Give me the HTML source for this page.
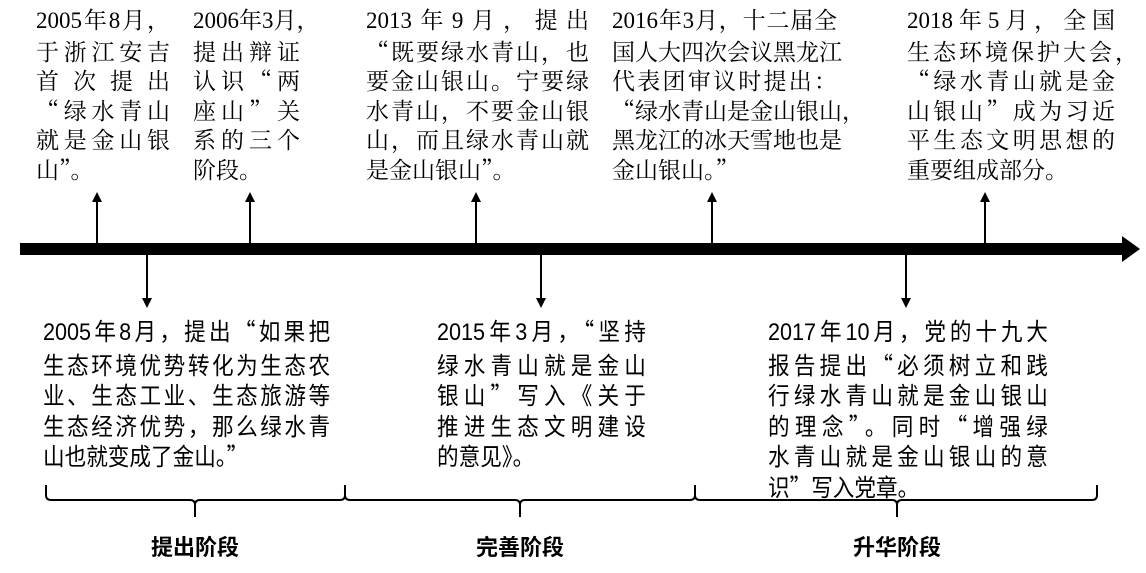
<!DOCTYPE html>
<html><head><meta charset="utf-8"><style>
body{margin:0;width:1146px;height:573px;background:#fff;position:relative;overflow:hidden;font-family:"Noto Serif CJK SC","Liberation Serif",serif;color:#000}
.n{font-family:"Liberation Serif",serif}
.b{position:absolute;font-size:23px;line-height:29.5px}
.b div{text-align:justify;text-align-last:justify;white-space:nowrap}
.b div.l{text-align-last:left}
.c{position:absolute;font-size:24px;line-height:30.5px;font-family:"Noto Sans CJK SC","Liberation Sans",sans-serif;transform:scaleX(0.9);transform-origin:0 0}
.c .n{font-family:"Liberation Sans Narrow","Liberation Sans",sans-serif}
.c div{text-align:justify;text-align-last:justify;white-space:nowrap}
.c div.l{text-align-last:left}
.lab{position:absolute;font-size:22px;font-weight:bold;font-family:"Noto Sans CJK SC",sans-serif;top:530px;transform:translateX(-50%)}
</style></head><body>
<svg width="1146" height="573" style="position:absolute;left:0;top:0">
<rect x="20" y="243" width="1106" height="12" fill="#000"/>
<polygon points="1122,236 1140,249 1122,262" fill="#000"/>
<g stroke="#000" stroke-width="2" fill="none">
<line x1="97" y1="243" x2="97" y2="200"/><line x1="250" y1="243" x2="250" y2="200"/><line x1="476" y1="243" x2="476" y2="200"/><line x1="712" y1="243" x2="712" y2="200"/><line x1="985" y1="243" x2="985" y2="200"/>
<line x1="147" y1="255" x2="147" y2="300"/><line x1="541" y1="255" x2="541" y2="300"/><line x1="906" y1="255" x2="906" y2="300"/>
<path d="M46,485 V495 Q46,500 51,500 H190 Q195,500 195,505 V517 M195,505 Q195,500 200,500 H340 Q345,500 345,495 V485 M345,495 Q345,500 350,500 H515 Q520,500 520,505 V517 M520,505 Q520,500 525,500 H690 Q695,500 695,495 V485 M695,495 Q695,500 700,500 H892 Q897,500 897,505 V517 M897,505 Q897,500 902,500 H1092 Q1097,500 1097,495 V485"/>
</g>
<g fill="#000">
<polygon points="92,202 97,192 102,202"/><polygon points="245,202 250,192 255,202"/><polygon points="471,202 476,192 481,202"/><polygon points="707,202 712,192 717,202"/><polygon points="980,202 985,192 990,202"/>
<polygon points="142,298 147,308 152,298"/><polygon points="536,298 541,308 546,298"/><polygon points="901,298 906,308 911,298"/>
</g>
</svg>
<div class="b" style="left:36px;top:4px;width:134px"><div><span class="n">2005</span>年<span class="n">8</span>月，</div><div>于浙江安吉</div><div>首次提出</div><div>“绿水青山</div><div>就是金山银</div><div class="l">山”。</div></div>
<div class="b" style="left:193px;top:4px;width:107px"><div><span class="n">2006</span>年<span class="n">3</span>月，</div><div>提出辩证</div><div>认识“两</div><div>座山”关</div><div>系的三个</div><div class="l">阶段。</div></div>
<div class="b" style="left:366px;top:4px;width:223px"><div><span class="n">2013</span>年<span class="n">9</span>月，提出</div><div>“既要绿水青山，也</div><div>要金山银山。宁要绿</div><div>水青山，不要金山银</div><div>山，而且绿水青山就</div><div class="l">是金山银山”。</div></div>
<div class="b" style="left:612px;top:4px;width:234px"><div style="width:225px"><span class="n">2016</span>年<span class="n">3</span>月，十二届全</div><div style="width:225px">国人大四次会议黑龙江</div><div style="width:225px">代表团审议时提出：</div><div>“绿水青山是金山银山，</div><div style="width:225px">黑龙江的冰天雪地也是</div><div class="l">金山银山。”</div></div>
<div class="b" style="left:907px;top:4px;width:231px"><div style="width:208px"><span class="n">2018</span>年<span class="n">5</span>月，全国</div><div>生态环境保护大会，</div><div style="width:208px">“绿水青山就是金</div><div style="width:208px">山银山”成为习近</div><div style="width:208px">平生态文明思想的</div><div class="l">重要组成部分。</div></div>
<div class="c" style="left:43px;top:315px;width:319px"><div><span class="n">2005</span>年<span class="n">8</span>月，提出“如果把</div><div>生态环境优势转化为生态农</div><div>业、生态工业、生态旅游等</div><div>生态经济优势，那么绿水青</div><div class="l">山也就变成了金山。”</div></div>
<div class="c" style="left:437px;top:315px;width:232px"><div><span class="n">2015</span>年<span class="n">3</span>月，“坚持</div><div>绿水青山就是金山</div><div>银山”写入《关于</div><div>推进生态文明建设</div><div class="l">的意见》。</div></div>
<div class="c" style="left:768px;top:315px;width:311px"><div><span class="n">2017</span>年<span class="n">10</span>月，党的十九大</div><div>报告提出“必须树立和践</div><div>行绿水青山就是金山银山</div><div>的理念”。同时“增强绿</div><div>水青山就是金山银山的意</div><div class="l">识”写入党章。</div></div>
<div class="lab" style="left:195px">提出阶段</div>
<div class="lab" style="left:520px">完善阶段</div>
<div class="lab" style="left:897px">升华阶段</div>
</body></html>
